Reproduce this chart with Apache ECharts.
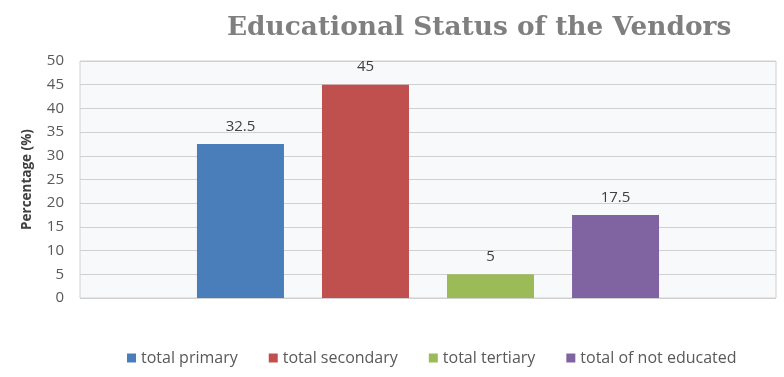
<!DOCTYPE html>
<html>
<head>
<meta charset="utf-8">
<script src="https://cdn.jsdelivr.net/npm/echarts@6/dist/echarts.min.js"></script>
<style>
html, body { margin: 0; padding: 0; background: #fff; }
#main { width: 784px; height: 377px; }
</style>
</head>
<body>
<div id="main"></div>
<script>
var seriesNames = ['total primary', 'total secondary', 'total tertiary', 'total of not educated'];
var seriesValues = [32.5, 45, 5, 17.5];
var colors = ['#4a7ebb', '#c0504d', '#9bbb59', '#8064a2'];
var yTicks = [0, 5, 10, 15, 20, 25, 30, 35, 40, 45, 50];

var myChart = echarts.init(document.getElementById('main'));

var series = seriesNames.map(function (name, i) {
    return {
        name: name,
        type: 'bar',
        barWidth: 87,
        barGap: '43.7%',
        data: [seriesValues[i]],
        itemStyle: { color: colors[i] },
        label: {
            show: true,
            position: 'top',
            distance: 10,
            color: '#404040',
            fontSize: 15,
            fontFamily: 'Open Sans'
        }
    };
});

var option = {
    title: {
        text: 'Educational Status of the Vendors',
        left: 222,
        top: 10,
        textStyle: {
            fontFamily: 'DejaVu Serif',
            fontWeight: 'bold',
            fontSize: 26.4,
            color: '#7f7f7f'
        }
    },
    legend: {
        bottom: 6,
        left: 122,
        itemWidth: 9,
        itemHeight: 9,
        itemGap: 31,
        icon: 'rect',
        textStyle: { color: '#595959', fontSize: 16, fontFamily: 'Open Sans' },
        data: seriesNames
    },
    grid: {
        left: 80,
        right: 8,
        top: 61,
        bottom: 79,
        show: true,
        backgroundColor: '#f8f9fa',
        borderColor: '#d0d0d0',
        borderWidth: 1
    },
    xAxis: {
        type: 'category',
        data: [''],
        axisLine: { show: false },
        axisTick: { show: false },
        axisLabel: { show: false }
    },
    yAxis: {
        type: 'value',
        min: yTicks[0],
        max: yTicks[yTicks.length - 1],
        interval: 5,
        name: 'Percentage (%)',
        nameLocation: 'middle',
        nameRotate: 90,
        nameGap: 46,
        nameTextStyle: { color: '#404040', fontSize: 13.5, fontWeight: 'bold', fontFamily: 'Open Sans' },
        axisLine: { show: false },
        axisTick: { show: false },
        axisLabel: { color: '#595959', fontSize: 15, fontFamily: 'Open Sans', margin: 16 },
        splitLine: { lineStyle: { color: '#d0d0d0', width: 1 } }
    },
    series: series
};

myChart.setOption(option);
window.addEventListener('resize', function () {
    myChart.resize();
});
</script>
</body>
</html>
